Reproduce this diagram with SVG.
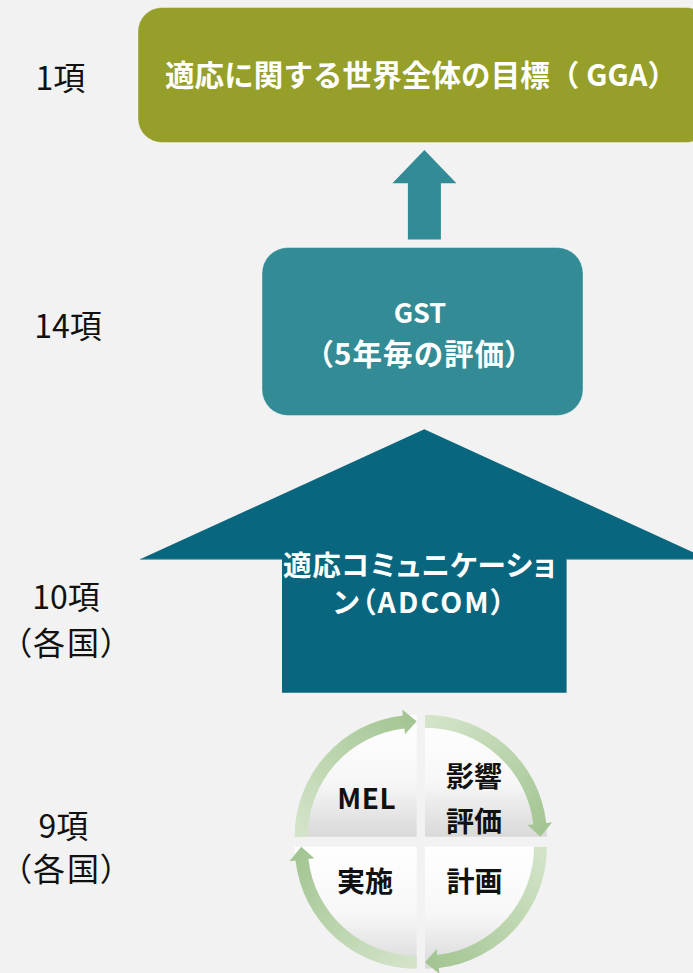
<svg xmlns="http://www.w3.org/2000/svg" width="693" height="973" viewBox="0 0 693 973">
<defs>
<style>
.jp{font-family:"Noto Sans CJK JP","Noto Sans",sans-serif;}
.w{fill:#ffffff;font-weight:700;}
.lbl{fill:#111111;font-size:32px;font-weight:400;font-feature-settings:"palt";}
.cyc{fill:#111111;font-size:28px;font-weight:700;}
.slice{fill:url(#sliceGrad);}
.band{fill:url(#bandGrad);}
.edge{stroke:#ffffff;stroke-opacity:0.35;stroke-width:1;}
</style>
<linearGradient id="sliceGrad" x1="0" y1="0" x2="0" y2="1">
<stop offset="0" stop-color="#ffffff"/>
<stop offset="0.55" stop-color="#f7f7f7"/>
<stop offset="1" stop-color="#d9d9d9"/>
</linearGradient>
<linearGradient id="bandGrad" x1="0" y1="1" x2="1" y2="0">
<stop offset="0" stop-color="#d5e5cb"/>
<stop offset="1" stop-color="#a0c38f"/>
</linearGradient>
<path id="qArrow" d="M-122,0 A122,122 0 0 1 -13.81,-121.22 L-14.49,-127.18 L0,-115.5 L-11.66,-102.34 L-12.34,-108.3 A109,109 0 0 0 -109,0 Z"/>
</defs>
<rect x="0" y="0" width="693" height="973" fill="#f2f2f2"/>

<g id="connectors">
<path id="arrow-gst-gga" d="M424.4,150 L456.4,183.3 L440.9,183.3 L440.9,239.5 L407.9,239.5 L407.9,183.3 L392.4,183.3 Z" fill="#338b96"/>
</g>

<g id="node-gga">
<rect x="138" y="7.5" width="572" height="135" rx="24" fill="#959f2a" class="edge"/>
<text class="jp w" x="165" y="85.5" font-size="29.5" textLength="512" lengthAdjust="spacing">適応に関する世界全体の目標（ GGA）</text>
</g>

<g id="node-gst">
<rect x="262" y="247.5" width="321" height="168" rx="26" fill="#338b96" class="edge"/>
<text class="jp w" x="420" y="322.7" font-size="27" text-anchor="middle">GST</text>
<text class="jp w" x="419" y="365" font-size="29.5" text-anchor="middle" textLength="202" lengthAdjust="spacing" style="font-feature-settings:'palt'">（5年毎の評価）</text>
</g>

<g id="node-adcom">
<path d="M424.3,429.3 L708.6,559.3 L566.6,559.3 L566.6,692.7 L282,692.7 L282,559.3 L140,559.3 Z" fill="#09667f"/>
<path d="M140,559.3 L282,559.3 M566.6,559.3 L693,559.3" stroke="#5d9fb0" stroke-width="1" fill="none"/>
<text class="jp w" x="283" y="575.5" font-size="28.5" textLength="273" lengthAdjust="spacing" style="font-feature-settings:'palt'">適応コミュニケーショ</text>
<text class="jp w" x="419" y="613" font-size="28.5" text-anchor="middle" textLength="172" lengthAdjust="spacing" style="font-feature-settings:'palt'">ン（ADCOM）</text>
</g>

<g id="node-cycle">
<path class="slice" d="M416.7,836.7 L294.7,836.7 A122,122 0 0 1 416.7,714.7 Z"/>
<path class="slice" d="M425,836.7 L425,714.7 A122,122 0 0 1 547,836.7 Z"/>
<path class="slice" d="M425,846.7 L547,846.7 A122,122 0 0 1 425,968.7 Z"/>
<path class="slice" d="M416.7,846.7 L416.7,968.7 A122,122 0 0 1 294.7,846.7 Z"/>
<use href="#qArrow" class="band" transform="translate(416.7,836.7)"/>
<use href="#qArrow" class="band" transform="translate(425,836.7) rotate(90)"/>
<use href="#qArrow" class="band" transform="translate(425,846.7) rotate(180)"/>
<use href="#qArrow" class="band" transform="translate(416.7,846.7) rotate(270)"/>
<text class="jp cyc" x="366.7" y="809" text-anchor="middle" font-size="30" letter-spacing="0.5">MEL</text>
<text class="jp cyc" x="474" y="786.5" text-anchor="middle">影響</text>
<text class="jp cyc" x="474" y="831.5" text-anchor="middle">評価</text>
<text class="jp cyc" x="365" y="891.5" text-anchor="middle">実施</text>
<text class="jp cyc" x="474.5" y="891.5" text-anchor="middle">計画</text>
</g>

<g id="labels">
<text class="jp lbl" x="60.5" y="89.5" text-anchor="middle">1項</text>
<text class="jp lbl" x="68" y="338" text-anchor="middle">14項</text>
<text class="jp lbl" x="66" y="609" text-anchor="middle">10項</text>
<text class="jp lbl" x="66" y="654.5" text-anchor="middle" textLength="102" lengthAdjust="spacing">（各国）</text>
<text class="jp lbl" x="63.5" y="838" text-anchor="middle">9項</text>
<text class="jp lbl" x="66" y="881" text-anchor="middle" textLength="102" lengthAdjust="spacing">（各国）</text>
</g>
</svg>
